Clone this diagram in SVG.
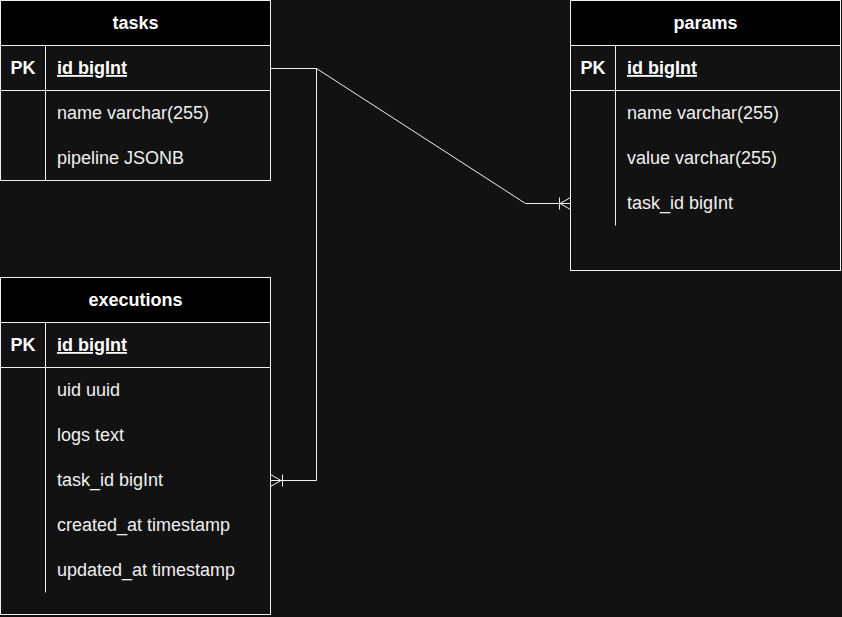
<svg xmlns="http://www.w3.org/2000/svg" width="842" height="617" viewBox="0 0 842 617">
<style>
.bg{fill:#121212}
.box{fill:#121212;stroke:#f0f0f0;stroke-width:1}
.hdr{fill:#000;stroke:#f0f0f0;stroke-width:1}
.ln{stroke:#f0f0f0;stroke-width:1;fill:none}
.t{font-family:"Liberation Sans",Arial,sans-serif;font-size:18px;fill:#f0f0f0}
.b{font-weight:bold;fill:#fff}
.c{text-anchor:middle}
.u{text-decoration:underline}
</style>
<rect class="bg" x="0" y="0" width="842" height="617"/>
<g id="connectors">
<path class="ln" d="M270.5,68.5 H316.5 V480.5 H270.5"/>
<path class="ln" d="M282.5,474.5 V486.5 M270.5,474.5 L281,480.5 L270.5,486.5"/>
<path class="ln" d="M270.5,68.5 H316.5 L525.5,203.5 H570.5"/>
<path class="ln" d="M559.5,197.5 V209.5 M570.5,197.5 L560,203.5 L570.5,209.5"/>
</g>
<g id="tasks">
<rect class="box" x="0.5" y="0.5" width="270" height="180"/>
<rect class="hdr" x="0.5" y="0.5" width="270" height="45"/>
<path class="ln" d="M0.5,90.5 H270.5 M45.5,45.5 V180.5"/>
<text class="t b c" x="135.5" y="29">tasks</text>
<text class="t b c" x="23" y="74">PK</text>
<text class="t b u" x="57" y="74">id bigInt</text>
<text class="t" x="57" y="119">name varchar(255)</text>
<text class="t" x="57" y="164">pipeline JSONB</text>
</g>
<g id="params">
<rect class="box" x="570.5" y="0.5" width="270" height="270"/>
<rect class="hdr" x="570.5" y="0.5" width="270" height="45"/>
<path class="ln" d="M570.5,90.5 H840.5 M615.5,45.5 V225.5"/>
<text class="t b c" x="705.5" y="29">params</text>
<text class="t b c" x="593" y="74">PK</text>
<text class="t b u" x="627" y="74">id bigInt</text>
<text class="t" x="627" y="119">name varchar(255)</text>
<text class="t" x="627" y="164">value varchar(255)</text>
<text class="t" x="627" y="209">task_id bigInt</text>
</g>
<g id="executions">
<rect class="box" x="0.5" y="277.5" width="270" height="337"/>
<rect class="hdr" x="0.5" y="277.5" width="270" height="45"/>
<path class="ln" d="M0.5,367.5 H270.5 M45.5,322.5 V592.5"/>
<text class="t b c" x="135.5" y="306">executions</text>
<text class="t b c" x="23" y="351">PK</text>
<text class="t b u" x="57" y="351">id bigInt</text>
<text class="t" x="57" y="396">uid uuid</text>
<text class="t" x="57" y="441">logs text</text>
<text class="t" x="57" y="486">task_id bigInt</text>
<text class="t" x="57" y="531">created_at timestamp</text>
<text class="t" x="57" y="576">updated_at timestamp</text>
</g>
</svg>
